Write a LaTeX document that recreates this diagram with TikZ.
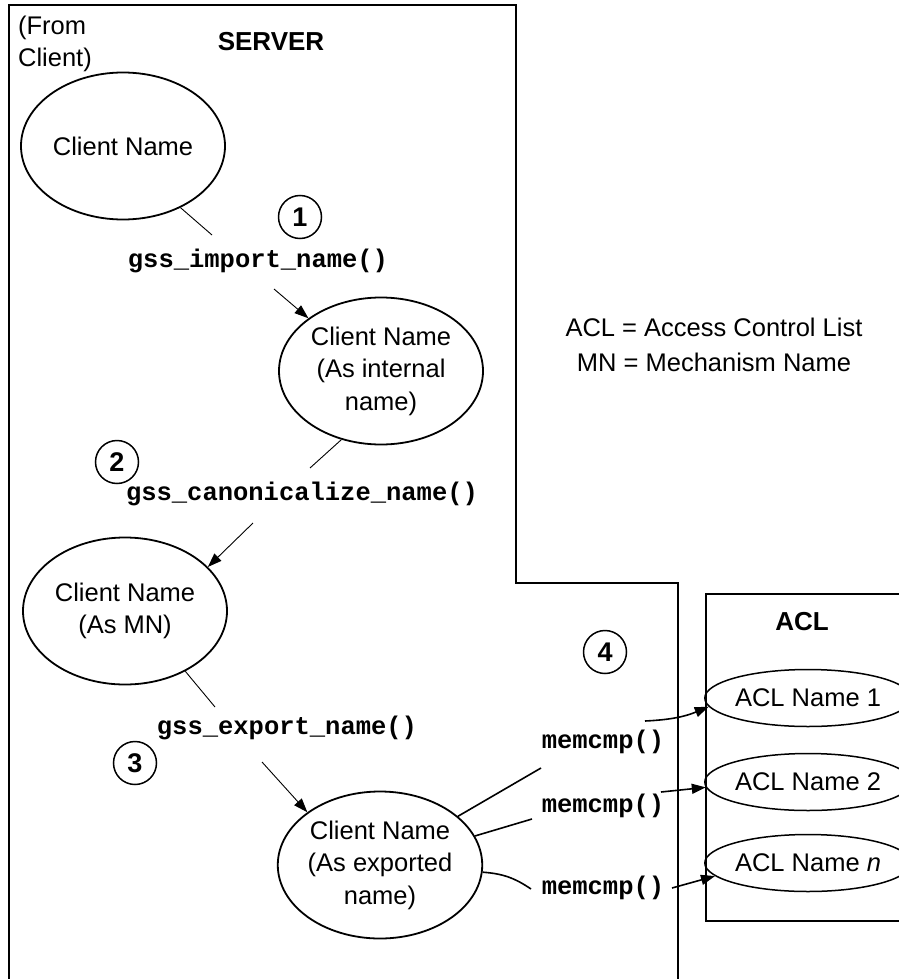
\documentclass[tikz,border=0pt]{standalone}
\usepackage{fontspec}
\setmainfont{Liberation Sans}
\setmonofont{Liberation Mono}
\usetikzlibrary{shapes.geometric,arrows.meta}
\begin{document}
\begin{tikzpicture}[x=1pt,y=-1pt,
  every node/.style={font=\fontsize{25.5}{32.5}\selectfont, inner sep=0pt},
  cname/.style={ellipse, draw, line width=1.8pt, minimum width=204pt, minimum height=147pt, align=center},
  aclname/.style={ellipse, draw, line width=1.5pt, minimum width=180pt, minimum height=57pt},
  func/.style={font=\fontsize{25.5}{32}\selectfont\ttfamily\bfseries},
  stepnum/.style={circle, draw, line width=1.5pt, minimum size=43pt, font=\fontsize{27}{30}\selectfont\bfseries},
  bound/.style={line width=2pt},
  thinline/.style={line width=0.9pt},
  conn/.style={line width=1.6pt},
  arr/.style={-{Triangle[length=14pt,width=10pt]}},
]
\useasboundingbox (0,0) rectangle (898,979);
% boundaries
\draw[bound] (9,990) -- (9,5) -- (516,5) -- (516,583) -- (678,583) -- (678,990);
\draw[line width=1.5pt] (706,594) rectangle (912,921);

% texts
\node[align=left] (from) at (55,44) {(From\\Client)};
\node[font=\fontsize{26}{30}\selectfont\bfseries] (server) at (271,42) {SERVER};
\node[align=center, font=\fontsize{25.5}{35}\selectfont] (legend) at (714,345) {ACL = Access Control List\\MN = Mechanism Name};
\node[font=\fontsize{26}{30}\selectfont\bfseries] (acl) at (802,622) {ACL};

% ellipses
\node[cname] (e1) at (123,146) {Client Name};
\node[cname] (e2) at (381,371) {Client Name\\(As internal\\name)};
\node[cname] (e3) at (125,611) {Client Name\\(As MN)};
\node[cname] (e4) at (380,865) {Client Name\\(As exported\\name)};

\node[aclname] (a1) at (808,698) {ACL Name 1};
\node[aclname] (a2) at (808,782) {ACL Name 2};
\node[aclname] (a3) at (808,863) {ACL Name \textit{n}};

% step numbers
\node[stepnum] (s1) at (300,217) {1};
\node[stepnum] (s2) at (117,462) {2};
\node[stepnum] (s3) at (135,763) {3};
\node[stepnum] (s4) at (605,652) {4};

% function labels
\node[func] (imp) at (258,261) {gss\_import\_name()};
\node[func] (can) at (302,494) {gss\_canonicalize\_name()};
\node[func] (exp) at (287,728) {gss\_export\_name()};
\node[func] (m1) at (603,742) {memcmp()};
\node[func] (m2) at (603,806) {memcmp()};
\node[func] (m3) at (603,888) {memcmp()};

% connector end points
\coordinate (c1) at (212,235);
\coordinate (c2) at (274,289);
\coordinate (c3) at (310,468);
\coordinate (c4) at (253,523);
\coordinate (c5) at (215,707);
\coordinate (c6) at (262,762);
\coordinate (d1) at (541,768);
\coordinate (d2) at (532,819);
\coordinate (d3) at (531,889);
\coordinate (f1) at (645,721);
\coordinate (f2) at (661,792);
\coordinate (f3) at (672,888);

% connectors
\draw[thinline] (e1.-47) -- (c1);
\draw[thinline,arr] (c2) -- (e2.144);
\draw[thinline] (e2.-120) -- (c3);
\draw[thinline,arr] (c4) -- (e3.28);
\draw[thinline] (e3.-45) -- (c5);
\draw[thinline,arr] (c6) -- (e4.144);

\draw[conn] (e4.32) -- (d1);
\draw[conn] (e4.17) -- (d2);
\draw[conn] (e4.-4) to[bend left=15] (d3);
\draw[conn,arr] (f1) to[bend right=10] (a1.185);
\draw[conn,arr] (f2) -- (a2.183);
\draw[conn,arr] (f3) -- (a3.188);
\end{tikzpicture}
\end{document}
